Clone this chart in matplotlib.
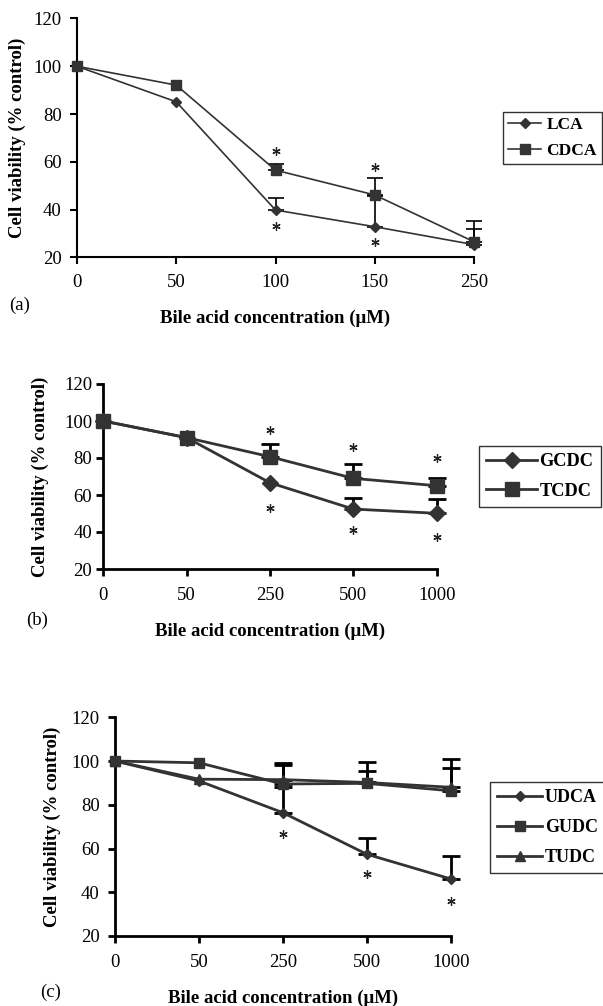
import numpy as np
import matplotlib
matplotlib.use("Agg")
import matplotlib.pyplot as plt

W, H = 603, 1006
plt.rcParams['font.family'] = ['Liberation Serif', 'DejaVu Serif']
INK = "#333333"

# ── (a) unconjugated bile acids ──
conc_a = ["0", "50", "100", "150", "250"]
lca = [100, 85.1, 39.8, 32.8, 25.3]
lca_err = [0, 0, 4.9, 13.0, 6.5]
cdca = [100, 92.1, 56.5, 46.1, 26.5]
cdca_err = [0, 0, 2.5, 7.0, 8.5]
star_a_x = [2, 2, 3, 3]
star_a_y = [64.5, 33.2, 57.9, 26.5]

# ── (b) chenodeoxycholate conjugates ──
conc_bc = ["0", "50", "250", "500", "1000"]
gcdc = [100, 91, 66.6, 52.4, 50.1]
gcdc_err = [0, 0, 0, 5.8, 7.6]
tcdc = [100, 91, 80.7, 69, 65]
tcdc_err = [0, 0, 6.7, 7.8, 4.0]
star_b_x = [2, 2, 3, 3, 4, 4]
star_b_y = [95.1, 52.8, 85.8, 41.0, 79.8, 37.5]

# ── (c) ursodeoxycholate + conjugates ──
udca = [100, 90.9, 76.4, 57.4, 46.1]
udca_err = [0, 0, 11.6, 7.3, 10.5]
gudc = [100, 99.2, 89.5, 89.8, 86.4]
gudc_err = [0, 0, 9.7, 9.6, 14.4]
tudc = [100, 91.7, 91.5, 90.2, 88.0]
tudc_err = [0, 0, 6.7, 5.2, 8.7]
star_c_x = [2, 3, 4]
star_c_y = [66.6, 48.3, 36.1]

yticks = [20, 40, 60, 80, 100, 120]

FS = 13.5
fig = plt.figure(figsize=(W / 100, H / 100), dpi=100)


def pix_axes(x0, x1, ytop, ybot):
    return fig.add_axes([x0 / W, 1 - ybot / H, (x1 - x0) / W, (ybot - ytop) / H])


def style(ax, cats, lw, ylab_x, xlab_y, padx, pady):
    ax.set_xlim(0, len(cats) - 1); ax.set_ylim(20, 120)
    ax.set_xticks(range(len(cats))); ax.set_xticklabels(cats)
    ax.set_yticks(yticks)
    for s in ("top", "right"): ax.spines[s].set_visible(False)
    for s in ("left", "bottom"): ax.spines[s].set_linewidth(lw); ax.spines[s].set_color("black")
    ax.tick_params(axis="x", direction="out", length=5, width=lw, labelsize=FS, pad=padx, colors="black")
    ax.tick_params(axis="y", direction="out", length=5, width=lw, labelsize=FS, pad=pady, colors="black")
    ax.set_ylabel("Cell viability (% control)", fontsize=FS, fontweight="bold")
    ax.set_xlabel("Bile acid concentration (\u03bcM)", fontsize=FS, fontweight="bold")
    ax.yaxis.set_label_coords(ylab_x, 0.5); ax.yaxis.label.set_va("center")
    ax.xaxis.set_label_coords(0.5, xlab_y); ax.xaxis.label.set_va("center")


def series(ax, y, err, marker, ms, lw, cap, label):
    x = np.arange(len(y)); e = np.asarray(err, float); m = e > 0
    ax.errorbar(x[m], np.asarray(y)[m], yerr=[np.zeros(m.sum()), e[m]], fmt="none",
                ecolor="black", elinewidth=lw, capsize=cap, capthick=lw, clip_on=False, zorder=2)
    ax.plot(x, y, color=INK, lw=lw, marker=marker, ms=ms, mfc=INK, mec=INK,
            clip_on=False, label=label, zorder=3)


def stars(ax, sx, sy, ms):
    ax.plot(sx, sy, ls="none", marker=(6, 2, 0), ms=ms, mew=0.9, color="#222222", clip_on=False)


def legend(ax, x0, ytop, fs, hl, tp, bp, ls):
    h, l = ax.get_legend_handles_labels()
    lg = fig.legend(h, l, loc="upper left", bbox_to_anchor=(x0 / W, 1 - ytop / H),
                    frameon=True, fancybox=False, edgecolor="black", borderaxespad=0,
                    prop={"weight": "bold", "size": fs}, handlelength=hl,
                    handletextpad=tp, borderpad=bp, labelspacing=ls)
    lg.get_frame().set_linewidth(1.0)


# (a)
ax = pix_axes(77, 474, 18.5, 257.3)
series(ax, lca, lca_err, "D", 5.5, 1.2, 5.5, "LCA")
series(ax, cdca, cdca_err, "s", 6.5, 1.2, 5.5, "CDCA")
stars(ax, star_a_x, star_a_y, 6)
style(ax, conc_a, 1.5, -0.151, -0.254, 7, 6)
legend(ax, 503, 112, 12.5, 1.9, 0.3, 0.3, 0.55)
fig.text(20 / W, 1 - 305 / H, "(a)", fontsize=FS, ha="center", va="center")

# (b)
ax = pix_axes(103.3, 436.7, 384, 569)
series(ax, gcdc, gcdc_err, "D", 8.5, 2.0, 6.5, "GCDC")
series(ax, tcdc, tcdc_err, "s", 9.5, 2.0, 6.5, "TCDC")
stars(ax, star_b_x, star_b_y, 6)
style(ax, conc_bc, 2.0, -0.19, -0.335, 8, 3)
legend(ax, 479, 446, 13.2, 2.75, 0.15, 0.4, 0.68)
fig.text(37 / W, 1 - 620 / H, "(b)", fontsize=FS, ha="center", va="center")

# (c)
ax = pix_axes(115, 450.7, 717.3, 936)
series(ax, udca, udca_err, "D", 5.5, 2.0, 6.5, "UDCA")
series(ax, gudc, gudc_err, "s", 6.5, 2.0, 6.5, "GUDC")
series(ax, tudc, tudc_err, "^", 7, 2.0, 6.5, "TUDC")
stars(ax, star_c_x, star_c_y, 6)
style(ax, conc_bc, 2.0, -0.188, -0.283, 8, 6)
legend(ax, 490, 782, 13.0, 2.5, 0.15, 0.4, 0.72)
fig.text(51 / W, 1 - 992 / H, "(c)", fontsize=FS, ha="center", va="center")

fig.savefig("out.png", dpi=100, facecolor="white")
